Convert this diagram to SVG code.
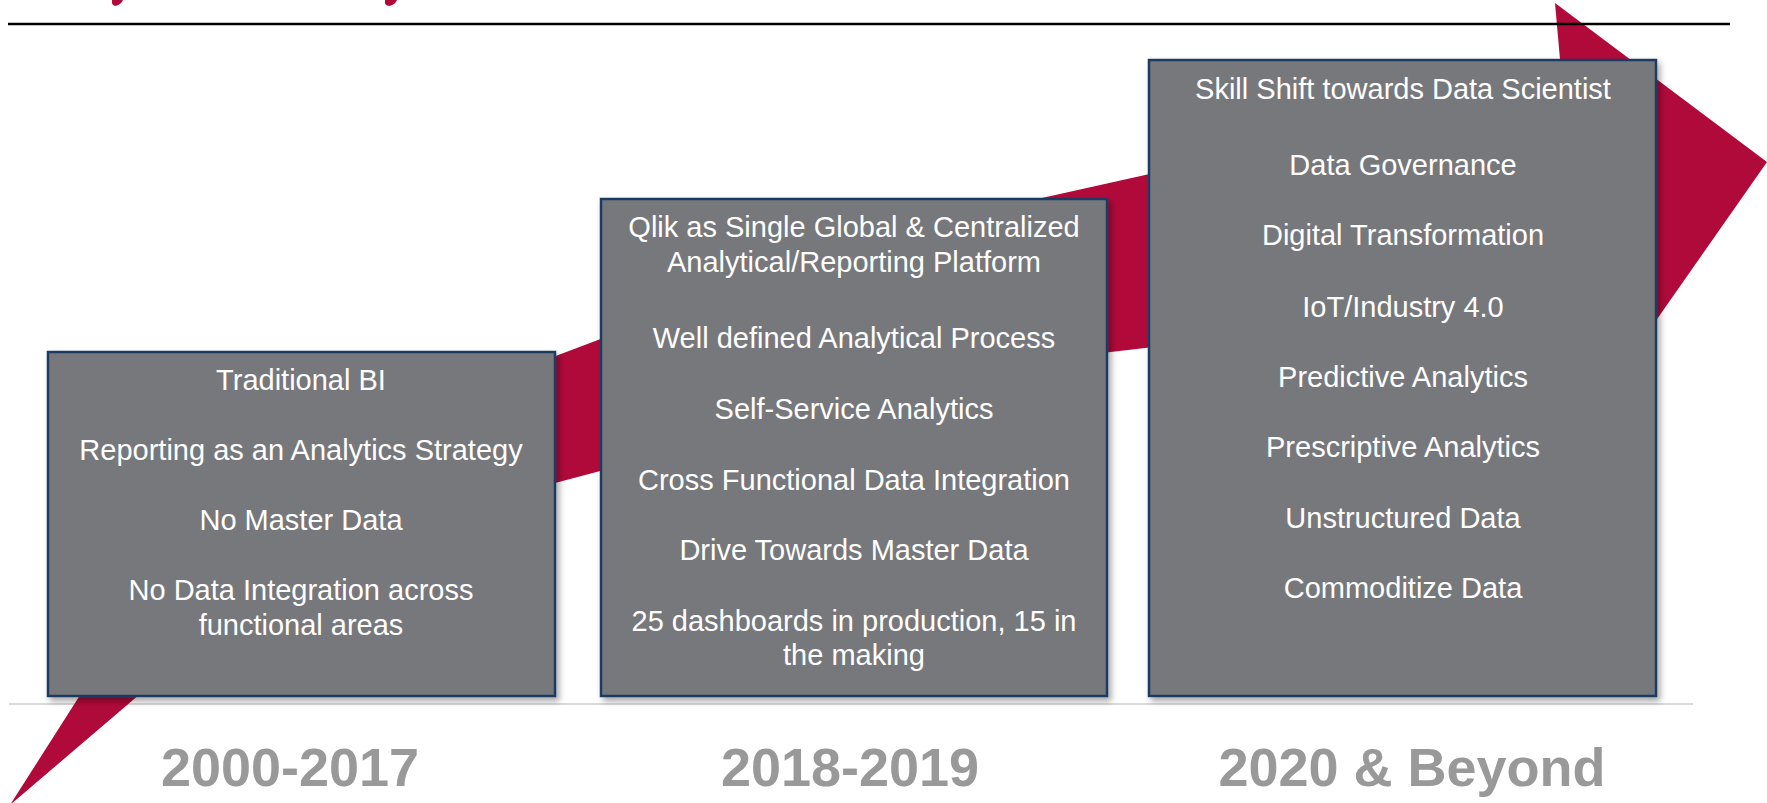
<svg xmlns="http://www.w3.org/2000/svg" width="1767" height="803" viewBox="0 0 1767 803">
  <defs>
    <filter id="shadow" x="-5%" y="-5%" width="112%" height="112%">
      <feDropShadow dx="3" dy="4" stdDeviation="3" flood-color="#000" flood-opacity="0.35"/>
    </filter>
  </defs>
  <style>
    .box { fill: #77787c; stroke: #1b3a63; stroke-width: 2.5; filter: url(#shadow); }
    .t { font-family: "Liberation Sans", Arial, sans-serif; font-size: 29px; fill: #ffffff; text-anchor: middle; }
    .yr { font-family: "Liberation Sans", Arial, sans-serif; font-size: 54px; font-weight: bold; fill: #999999; text-anchor: middle; }
    .red { fill: #b00a3a; }
  </style>

  <rect width="1767" height="803" fill="#ffffff"/>

  <!-- baseline rule -->
  <line x1="9" y1="704" x2="1693" y2="704" stroke="#d9d9d9" stroke-width="2"/>

  <!-- red growth arrow -->
  <g id="connectors">
    <path id="arrow" class="red" d="M10,805 L214,485 L876,235 L1562,82 L1555,3 L1767,162 L1620,372 L1600,295 L999,365 L311,548 Z"/>
  </g>

  <!-- title fragments -->
  <g id="title-fragments" class="red">
    <path d="M112,0 L123,0 Q121,5 115,6 Q112,5 112,3 Z"/>
    <path d="M385,0 L397,0 Q395,5 389,6 Q385,5 385,3 Z"/>
  </g>

  <!-- top rule -->
  <line x1="8" y1="24" x2="1730" y2="24" stroke="#000000" stroke-width="2.5"/>

  <g id="node-2000-2017">
    <rect class="box" x="48" y="352" width="507" height="344"/>
    <text class="t" x="301" y="390">Traditional BI</text>
    <text class="t" x="301" y="460">Reporting as an Analytics Strategy</text>
    <text class="t" x="301" y="530">No Master Data</text>
    <text class="t" x="301" y="600">No Data Integration across</text>
    <text class="t" x="301" y="635">functional areas</text>
  </g>

  <g id="node-2018-2019">
    <rect class="box" x="601" y="199" width="506" height="497"/>
    <text class="t" x="854" y="237">Qlik as Single Global &amp; Centralized</text>
    <text class="t" x="854" y="272">Analytical/Reporting Platform</text>
    <text class="t" x="854" y="348">Well defined Analytical Process</text>
    <text class="t" x="854" y="419">Self-Service Analytics</text>
    <text class="t" x="854" y="490">Cross Functional Data Integration</text>
    <text class="t" x="854" y="560">Drive Towards Master Data</text>
    <text class="t" x="854" y="631">25 dashboards in production, 15 in</text>
    <text class="t" x="854" y="665">the making</text>
  </g>

  <g id="node-2020-beyond">
    <rect class="box" x="1149" y="60" width="507" height="636"/>
    <text class="t" x="1403" y="99">Skill Shift towards Data Scientist</text>
    <text class="t" x="1403" y="175">Data Governance</text>
    <text class="t" x="1403" y="245">Digital Transformation</text>
    <text class="t" x="1403" y="317">IoT/Industry 4.0</text>
    <text class="t" x="1403" y="387">Predictive Analytics</text>
    <text class="t" x="1403" y="457">Prescriptive Analytics</text>
    <text class="t" x="1403" y="528">Unstructured Data</text>
    <text class="t" x="1403" y="598">Commoditize Data</text>
  </g>

  <g id="year-labels">
    <text class="yr" x="290" y="786">2000-2017</text>
    <text class="yr" x="850" y="786">2018-2019</text>
    <text class="yr" x="1412" y="786">2020 &amp; Beyond</text>
  </g>
</svg>
